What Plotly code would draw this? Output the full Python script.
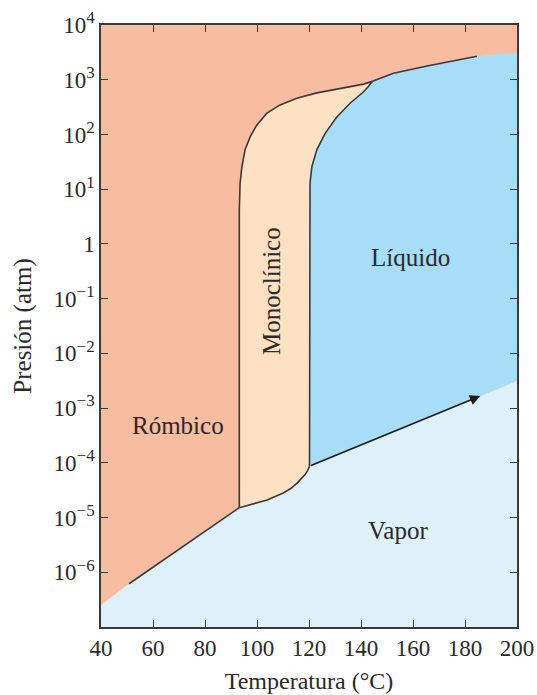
import plotly.graph_objects as go

# ---------------- data ----------------
# temperatures in °C, pressures as log10(atm)
rv_T = [40.0, 50.8, 93.2]                 # rhombic / vapour boundary (colour edge starts at 40)
rv_logP = [-6.60, -6.21, -4.82]

mv_T = [93.2, 97.3, 103.9, 110.1, 113.0, 115.4, 117.2, 118.6, 119.5, 120.2]   # monoclinic / vapour
mv_logP = [-4.82, -4.77, -4.68, -4.55, -4.47, -4.37, -4.29, -4.21, -4.14, -4.06]

lv_T = [120.2, 185.9, 200.0]              # liquid / vapour
lv_logP = [-4.06, -2.78, -2.50]

rm_T = [93.2, 93.2, 93.5, 94.2, 95.4, 97.4, 99.9, 103.8, 108.9, 115.3, 123.0, 132.0, 141.0, 144.4]
rm_logP = [-4.82, 0.62, 1.11, 1.41, 1.72, 1.96, 2.17, 2.39, 2.54, 2.66, 2.76, 2.84, 2.92, 2.97]

ml_T = [120.2, 120.2, 120.4, 121.1, 123.0, 126.2, 130.7, 135.8, 141.0, 142.9, 144.4]
ml_logP = [-4.06, 0.62, 1.11, 1.41, 1.72, 2.02, 2.32, 2.57, 2.78, 2.88, 2.97]

rl_T = [144.4, 152.5, 165.4, 175.6, 184.6, 190.9, 200.0]   # rhombic / liquid (line ends at 184.6)
rl_logP = [2.97, 3.12, 3.25, 3.35, 3.43, 3.46, 3.49]

x_ticks = [40, 60, 80, 100, 120, 140, 160, 180, 200]
y_exps = [-6, -5, -4, -3, -2, -1, 0, 1, 2, 3, 4]
y_sup = ["−6", "−5", "−4", "−3", "−2", "−1", "", "1", "2", "3", "4"]

phase_labels = ["Rómbico", "Monoclínico", "Líquido", "Vapor"]
phase_T = [69.6, 105.8, 158.9, 154.3]
phase_logP = [-3.31, -0.86, -0.24, -5.23]
phase_angle = [0, -90, 0, 0]

T_MIN, T_MAX = 40, 200
LOGP_MIN, LOGP_MAX = -7, 4

# ---------------- styles ----------------
C_RHOMB = "#F8BCA1"
C_MONO = "#FDE1C2"
C_LIQ = "#A8DDF7"
C_VAP = "#DEF1FB"
C_LINE = "#3a3a3a"
FONT = "Liberation Serif"


def P(lst):
    return [10 ** v for v in lst]


def tick_label(e, s):
    if s == "":
        return "1"
    return "10<sup><span style='font-size:17px'>" + s + "</span></sup>"


y_ticktext = [tick_label(e, s) for e, s in zip(y_exps, y_sup)]

fig = go.Figure()

# vapour region
vap_T = [T_MIN] + rv_T + mv_T[1:] + lv_T[1:] + [T_MAX]
vap_L = [LOGP_MIN] + rv_logP + mv_logP[1:] + lv_logP[1:] + [LOGP_MIN]
fig.add_trace(go.Scatter(x=vap_T, y=P(vap_L), fill="toself", fillcolor=C_VAP,
                         mode="lines", line=dict(width=0), hoverinfo="skip"))

# monoclinic region
mono_T = rm_T + ml_T[::-1][1:] + mv_T[::-1][1:]
mono_L = rm_logP + ml_logP[::-1][1:] + mv_logP[::-1][1:]
fig.add_trace(go.Scatter(x=mono_T, y=P(mono_L), fill="toself", fillcolor=C_MONO,
                         mode="lines", line=dict(width=0), hoverinfo="skip"))

# liquid region
liq_T = ml_T + rl_T[1:] + lv_T[::-1]
liq_L = ml_logP + rl_logP[1:] + lv_logP[::-1]
fig.add_trace(go.Scatter(x=liq_T, y=P(liq_L), fill="toself", fillcolor=C_LIQ,
                         mode="lines", line=dict(width=0), hoverinfo="skip"))

# boundary lines
line_style = dict(color=C_LINE, width=1.6)
for xs, ys in [(rv_T[1:], rv_logP[1:]), (mv_T, mv_logP), (rm_T, rm_logP),
               (ml_T, ml_logP), (rl_T[:5], rl_logP[:5])]:
    fig.add_trace(go.Scatter(x=xs, y=P(ys), mode="lines", line=line_style,
                             hoverinfo="skip"))

# liquid/vapour line with arrow
fig.add_annotation(x=lv_T[1], y=lv_logP[1], ax=lv_T[0], ay=lv_logP[0],
                   xref="x", yref="y", axref="x", ayref="y", text="",
                   showarrow=True, arrowhead=2, arrowsize=1.3, arrowwidth=1.6,
                   arrowcolor="#1a1a1a")

for lab, t, lp, ang in zip(phase_labels, phase_T, phase_logP, phase_angle):
    fig.add_annotation(x=t, y=lp, text=lab, showarrow=False, textangle=ang,
                       font=dict(family=FONT, size=25, color="#2a2a2a"))

fig.update_layout(
    width=537, height=695,
    margin=dict(l=101, r=20, t=25, b=68),
    paper_bgcolor="white", plot_bgcolor=C_RHOMB,
    showlegend=False,
    font=dict(family=FONT, size=22, color="#2a2a2a"),
)
fig.update_xaxes(range=[T_MIN, T_MAX], tickvals=x_ticks, ticks="inside", ticklen=7,
                 tickcolor=C_LINE, showline=True, linecolor=C_LINE, linewidth=1.5,
                 mirror="ticks", showgrid=False, zeroline=False, automargin=False,
                 tickfont=dict(family=FONT, size=23),
                 title=dict(text="Temperatura (°C)", font=dict(family=FONT, size=24),
                            standoff=12))
fig.update_yaxes(type="log", range=[LOGP_MIN, LOGP_MAX],
                 tickvals=[10 ** e for e in y_exps], ticktext=y_ticktext,
                 ticks="inside", ticklen=7, tickcolor=C_LINE, showline=True,
                 linecolor=C_LINE, linewidth=1.5, mirror="ticks", showgrid=False,
                 zeroline=False, automargin=False, tickfont=dict(family=FONT, size=23),
                 title=dict(text="Presión (atm)", font=dict(family=FONT, size=25),
                            standoff=15))

fig.write_html("out.html", config={"displayModeBar": False},
               post_script="document.body.style.margin='0';")
